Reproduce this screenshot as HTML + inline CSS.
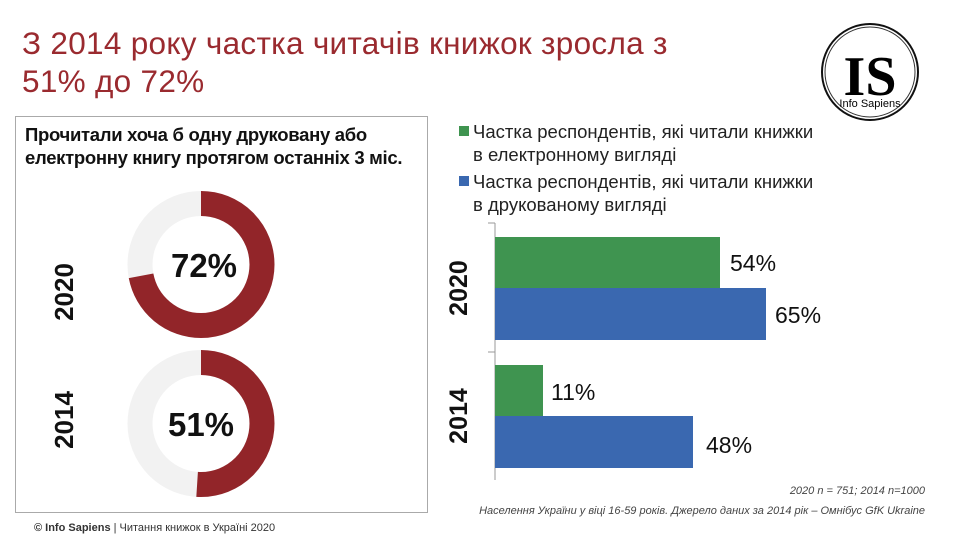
<!DOCTYPE html>
<html><head><meta charset="utf-8"><style>
body{margin:0;width:960px;height:540px;background:#fff;position:relative;overflow:hidden;font-family:"Liberation Sans",sans-serif}
.a{position:absolute;white-space:nowrap}
</style></head><body>
<div class="a" style="left:22px;top:24px;font-size:31.5px;line-height:38px;color:#9a2a2f;letter-spacing:0.3px">З 2014 року частка читачів книжок зросла з<br>51% до 72%</div>
<svg class="a" style="left:812px;top:20px" width="116" height="104" viewBox="0 0 116 104">
<circle cx="58" cy="52" r="48" fill="none" stroke="#111" stroke-width="2"/>
<circle cx="58" cy="52" r="45" fill="none" stroke="#333" stroke-width="1"/>
<text x="58" y="75" text-anchor="middle" font-family="Liberation Serif" font-weight="bold" font-size="56">IS</text>
<text x="58" y="87" text-anchor="middle" font-family="Liberation Sans" font-size="11">Info Sapiens</text>
</svg>
<div class="a" style="left:15px;top:116px;width:411px;height:395px;border:1px solid #aaa"></div>
<div class="a" style="left:25px;top:123px;font-size:18.5px;font-weight:bold;line-height:23px;color:#111;letter-spacing:-0.3px">Прочитали хоча б одну друковану або<br>електронну книгу протягом останніх 3 міс.</div>
<svg class="a" style="left:0;top:0" width="960" height="540">
<circle cx="201" cy="264.5" r="61" fill="none" stroke="#f2f2f2" stroke-width="25"/>
<circle cx="201" cy="264.5" r="61" fill="none" stroke="#922529" stroke-width="25" stroke-dasharray="275.96 400" transform="rotate(-90 201 264.5)"/>
<circle cx="201" cy="423.5" r="61" fill="none" stroke="#f2f2f2" stroke-width="25"/>
<circle cx="201" cy="423.5" r="61" fill="none" stroke="#922529" stroke-width="25" stroke-dasharray="195.47 400" transform="rotate(-90 201 423.5)"/>
<text x="204" y="277" text-anchor="middle" font-size="33" font-weight="bold" fill="#111">72%</text>
<text x="201" y="436" text-anchor="middle" font-size="33" font-weight="bold" fill="#111">51%</text>
<text transform="translate(73 292) rotate(-90)" text-anchor="middle" font-size="26" font-weight="bold" fill="#111">2020</text>
<text transform="translate(73 420) rotate(-90)" text-anchor="middle" font-size="26" font-weight="bold" fill="#111">2014</text>
<rect x="459" y="126" width="10" height="10" fill="#3f9450"/>
<rect x="459" y="176" width="10" height="10" fill="#3a68b0"/>
<text x="473" y="138" font-size="18.5" fill="#222">Частка респондентів, які читали книжки</text>
<text x="473" y="161" font-size="18.5" fill="#222">в електронному вигляді</text>
<text x="473" y="188" font-size="18.5" fill="#222">Частка респондентів, які читали книжки</text>
<text x="473" y="211" font-size="18.5" fill="#222">в друкованому вигляді</text>
<line x1="495" y1="223" x2="495" y2="480" stroke="#999" stroke-width="1"/>
<line x1="488" y1="223" x2="495" y2="223" stroke="#999"/>
<line x1="488" y1="352" x2="495" y2="352" stroke="#999"/>
<rect x="495" y="237" width="225" height="51" fill="#3f9450"/>
<rect x="495" y="288" width="271" height="52" fill="#3a68b0"/>
<rect x="495" y="365" width="48" height="51" fill="#3f9450"/>
<rect x="495" y="416" width="198" height="52" fill="#3a68b0"/>
<g font-size="23" fill="#111">
<text x="730" y="271">54%</text><text x="775" y="323">65%</text>
<text x="551" y="400">11%</text><text x="706" y="453">48%</text>
</g>
<text transform="translate(467 288) rotate(-90)" text-anchor="middle" font-size="25" font-weight="bold" fill="#111">2020</text>
<text transform="translate(467 416) rotate(-90)" text-anchor="middle" font-size="25" font-weight="bold" fill="#111">2014</text>
<text x="925" y="494" text-anchor="end" font-size="11" font-style="italic" fill="#444">2020 n = 751; 2014 n=1000</text>
<text x="925" y="514" text-anchor="end" font-size="11" font-style="italic" fill="#444">Населення України у віці 16-59 років. Джерело даних за 2014 рік – Омнібус GfK Ukraine</text>
<text x="34" y="531" font-size="11" fill="#333"><tspan font-weight="bold">© Info Sapiens</tspan> | Читання книжок в Україні 2020</text>
</svg>
</body></html>
